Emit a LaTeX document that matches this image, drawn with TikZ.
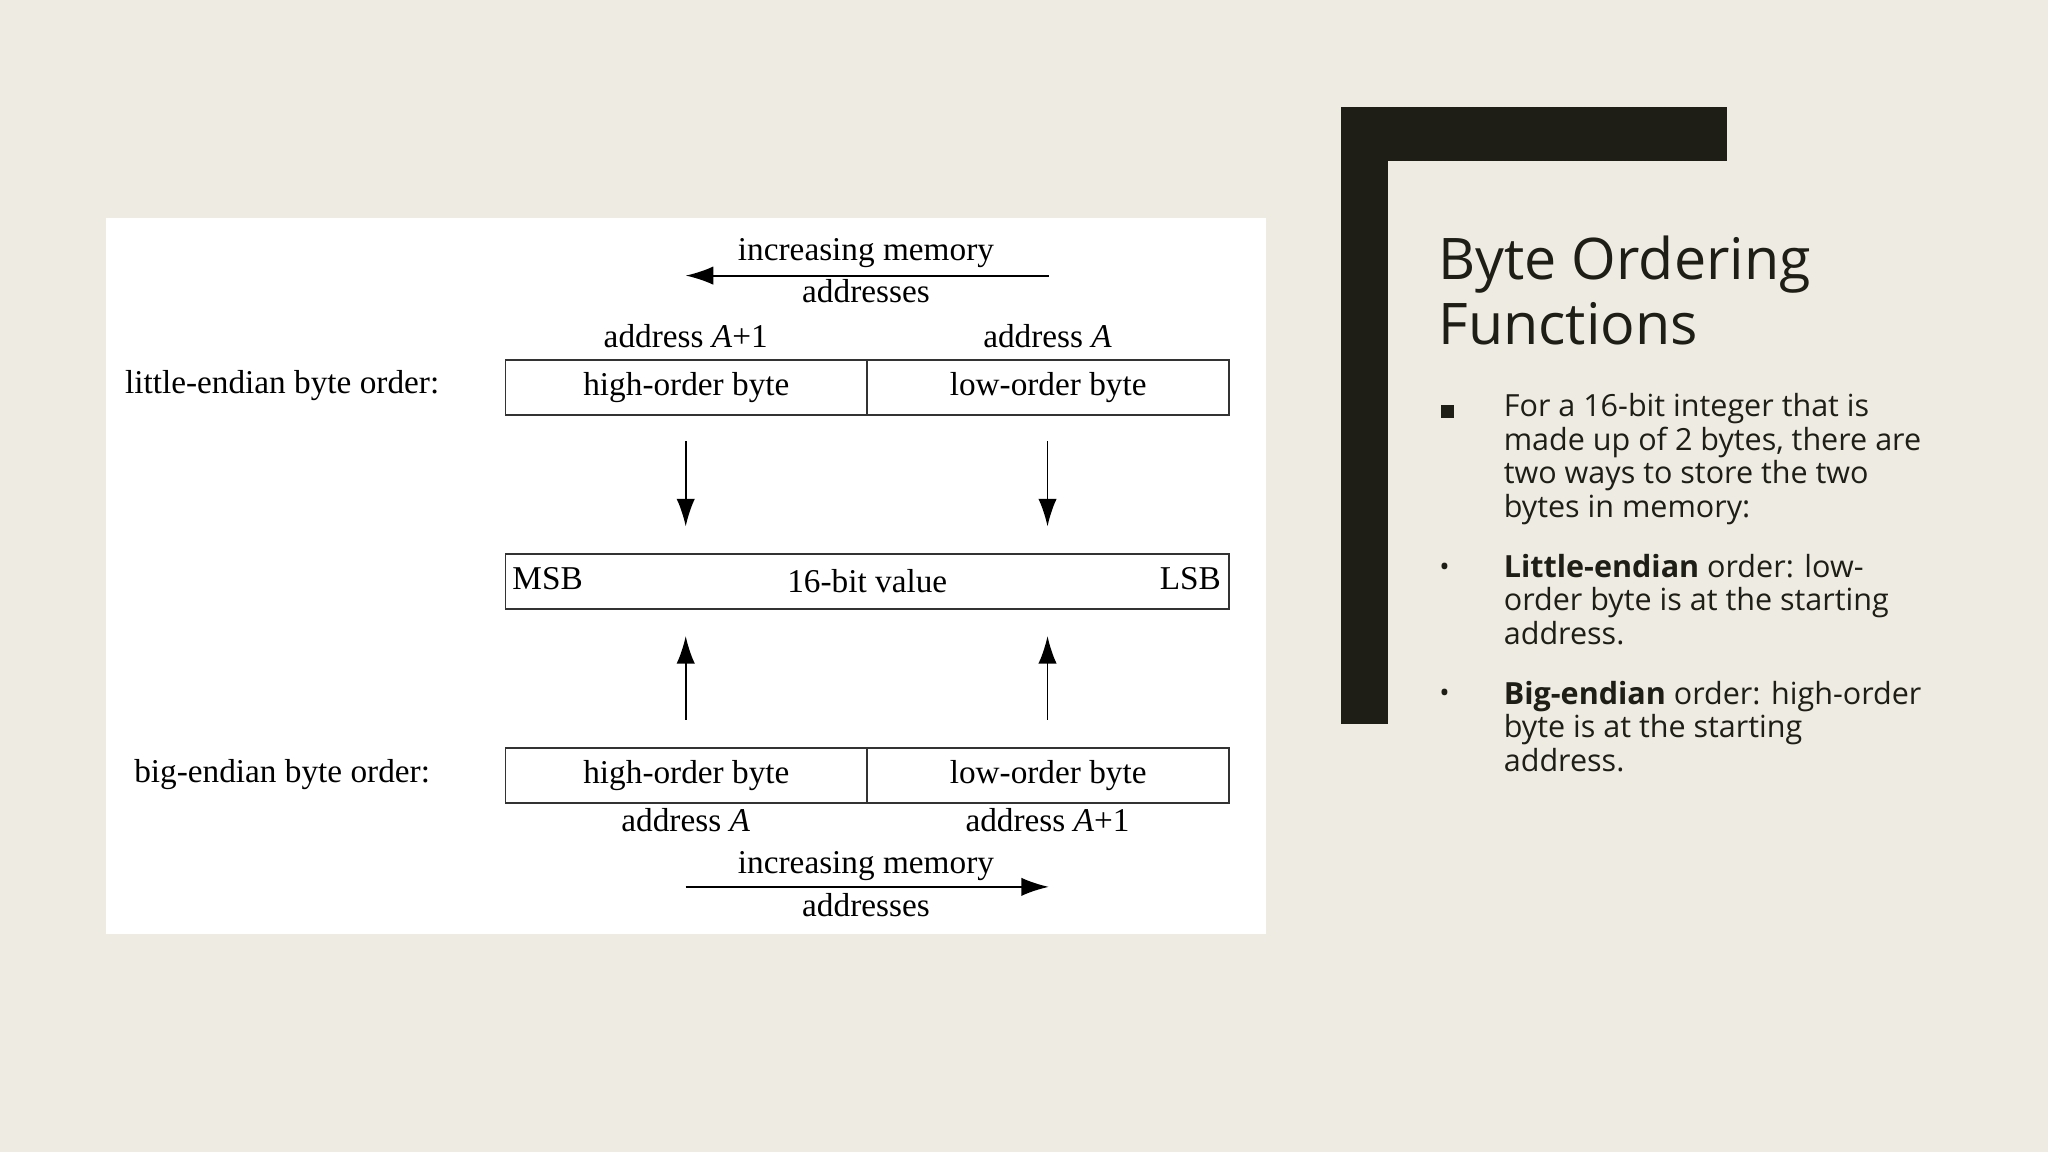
\documentclass[tikz,border=0pt]{standalone}
\usepackage{fontspec}
\setmainfont{Liberation Serif}
\newfontfamily\osans{Open Sans}
\usetikzlibrary{arrows.meta}
\definecolor{bg}{HTML}{EEEBE3}
\definecolor{dk}{HTML}{1E1E16}
\tikzset{
 cell/.style={draw=black!80, line width=0.8pt, minimum height=0.84cm, inner sep=0pt, font=\fontsize{14.5}{14.5}\selectfont},
 lbl/.style={font=\fontsize{14.5}{14.5}\selectfont, inner sep=0pt},
 arr/.style={-{Latex[length=12pt,width=8pt]}, line width=0.8pt},
 btxt/.style={font=\osans\fontsize{13.3}{14.6}\selectfont, text=dk, align=left, anchor=north west, inner sep=0pt}
}
\begin{document}
\begin{tikzpicture}[x=0.02cm,y=-0.02cm]
\fill[bg] (0,0) rectangle (1568,882);
\useasboundingbox (0,0) rectangle (1568,882);
\fill[white] (81,167) rectangle (969,715);
\fill[dk] (1027,82) rectangle (1063,554);
\fill[dk] (1027,82) rectangle (1322,123);
% top label
\node[lbl] (inc1) at (663,194) {increasing memory};
\node[lbl] (ad1) at (663,223) {addresses};
\coordinate (t1) at (803,211); \coordinate (t2) at (525,211);
\draw[arr] (t1) -- (t2);
\node[lbl] (aA1) at (525,257) {address \textit{A}+1};
\node[lbl] (aA) at (802,257) {address \textit{A}};
\node[lbl] (le) at (216,295) {little-endian byte order:};
\node[cell, minimum width=5.54cm] (lh) at (525.5,296.5) {high-order byte};
\node[cell, minimum width=5.54cm] (ll) at (802.5,296.5) {low-order byte};
\node[cell, minimum width=11.08cm] (mid) at (664,445) {16-bit value};
\node[lbl, anchor=west] (msb) at (392,443) {MSB};
\node[lbl, anchor=east] (lsb) at (935,443) {LSB};
\node[cell, minimum width=5.54cm] (bh) at (525.5,593.5) {high-order byte};
\node[cell, minimum width=5.54cm] (bl) at (802.5,593.5) {low-order byte};
\node[lbl] (be) at (216,593) {big-endian byte order:};
\node[lbl] (bA) at (525,628) {address \textit{A}};
\node[lbl] (bA1) at (802,628) {address \textit{A}+1};
\node[lbl] (inc2) at (663,663) {increasing memory};
\node[lbl] (ad2) at (663,693) {addresses};
\coordinate (b1) at (525,679); \coordinate (b2) at (803,679);
\draw[arr] (b1) -- (b2);
\coordinate (d1) at (525,338); \coordinate (d2) at (525,403);
\coordinate (d3) at (802,338); \coordinate (d4) at (802,403);
\draw[arr] (d1) -- (d2); \draw[arr] (d3) -- (d4);
\coordinate (u1) at (525,551); \coordinate (u2) at (525,487);
\coordinate (u3) at (802,551); \coordinate (u4) at (802,487);
\draw[arr] (u1) -- (u2); \draw[arr] (u3) -- (u4);
% right text
\node[font=\osans\fontsize{25}{28.5}\selectfont, text=dk, anchor=north west, align=left, inner sep=0pt] (title) at (1101,180) {Byte Ordering\\Functions};
\node[fill=dk, minimum size=0.2cm, inner sep=0pt] (sq) at (1108,315) {};
\node[btxt] (p1) at (1151,301) {For a 16-bit integer that is\\made up of 2 bytes, there are\\two ways to store the two\\bytes in memory:};
\node[font=\osans\fontsize{12}{12}\selectfont, text=dk, inner sep=0pt] (bu1) at (1106,436) {•};
\node[btxt] (p2) at (1151,424) {\textbf{Little-endian} order: low-\\order byte is at the starting\\address.};
\node[font=\osans\fontsize{12}{12}\selectfont, text=dk, inner sep=0pt] (bu2) at (1106,533) {•};
\node[btxt] (p3) at (1151,521) {\textbf{Big-endian} order: high-order\\byte is at the starting\\address.};
\end{tikzpicture}
\end{document}
